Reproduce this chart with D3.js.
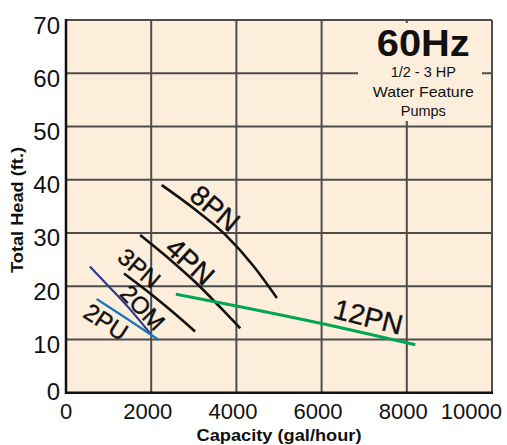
<!DOCTYPE html>
<html><head><meta charset="utf-8">
<script src="https://cdn.jsdelivr.net/npm/d3@7"></script>
<style>body{margin:0;background:#fff}svg{display:block}text{font-family:"Liberation Sans",Arial,Helvetica,sans-serif}</style>
</head><body>
<script>
const xTicks = [0, 2000, 4000, 6000, 8000, 10000];
const yTicks = [0, 10, 20, 30, 40, 50, 60, 70];

const pn8Gph = [2250, 3000, 3750, 4400, 4950];
const pn8Head = [39.0, 34.6, 29.6, 23.8, 17.8];
const pn4Gph = [1740, 2500, 3070, 3600, 4090];
const pn4Head = [29.6, 24.6, 20.5, 16.2, 12.1];
const pn3Gph = [1360, 2000, 2500, 3030];
const pn3Head = [22.4, 18.5, 15.2, 11.5];
const om2Gph = [560, 1000, 1500, 1990];
const om2Head = [23.7, 20.0, 15.7, 11.0];
const pu2Gph = [720, 1450, 2180];
const pu2Head = [17.6, 13.8, 9.9];
const pn12Gph = [2580, 4000, 6000, 8200];
const pn12Head = [18.5, 16.3, 13.0, 9.0];

const seriesNames = ["8PN", "4PN", "3PN", "2OM", "2PU", "12PN"];
const labelGph = [3498, 2911, 1721, 1800, 939, 7096];
const labelHead = [34.6, 24.6, 23.4, 16.0, 13.3, 14.2];

const W = 507, H = 445;
const m = {l: 66, t: 20, r: 15, b: 52.3};
const iw = W - m.l - m.r, ih = H - m.t - m.b;

const svg = d3.select("body").append("svg").attr("width", W).attr("height", H);
const x = d3.scaleLinear().domain([0, 10000]).range([m.l, m.l + iw]);
const y = d3.scaleLinear().domain([0, 70]).range([m.t + ih, m.t]);

const bg = "#fdeedb";
svg.append("rect").attr("x", m.l).attr("y", m.t).attr("width", iw).attr("height", ih).attr("fill", bg);

// grid
const grid = svg.append("g").attr("stroke", "#4d4d4d").attr("stroke-width", 2);
grid.selectAll(".vx").data(xTicks.slice(1)).join("line")
  .attr("x1", d => x(d)).attr("x2", d => x(d)).attr("y1", m.t).attr("y2", m.t + ih);
grid.selectAll(".hy").data(yTicks.slice(1)).join("line")
  .attr("y1", d => y(d)).attr("y2", d => y(d)).attr("x1", m.l).attr("x2", m.l + iw);

// box covering grid behind title
svg.append("rect").attr("x", 358).attr("y", 23).attr("width", 124).attr("height", 98).attr("fill", bg);

// axes lines
svg.append("line").attr("x1", m.l).attr("x2", m.l).attr("y1", m.t - 1).attr("y2", m.t + ih + 1.2)
  .attr("stroke", "#111").attr("stroke-width", 2.5);
svg.append("line").attr("x1", m.l - 1).attr("x2", m.l + iw + 1).attr("y1", m.t + ih).attr("y2", m.t + ih)
  .attr("stroke", "#111").attr("stroke-width", 2.5);

// y tick labels
svg.append("g").selectAll("text").data(yTicks).join("text")
  .attr("x", 60).attr("y", d => y(d) + (d === 0 ? -1 : 5))
  .attr("text-anchor", "end").attr("dominant-baseline", "central")
  .attr("font-size", 24).attr("fill", "#111").text(d => d);

// x tick labels
svg.append("g").selectAll("text").data(xTicks).join("text")
  .attr("x", d => d === 0 ? x(d) : d === 10000 ? 502 : x(d) - 3.5)
  .attr("y", 419)
  .attr("text-anchor", d => d === 10000 ? "end" : "middle")
  .attr("font-size", 22).attr("fill", "#111").text(d => d);

// axis titles
svg.append("text").attr("x", (m.l + m.l + iw) / 2).attr("y", 441).attr("text-anchor", "middle")
  .attr("font-size", 16).attr("font-weight", "bold").attr("fill", "#111")
  .attr("textLength", 165).attr("lengthAdjust", "spacingAndGlyphs")
  .text("Capacity (gal/hour)");
svg.append("text").attr("transform", "translate(23,210) rotate(-90)").attr("text-anchor", "middle")
  .attr("font-size", 16).attr("font-weight", "bold").attr("fill", "#111")
  .attr("textLength", 126).attr("lengthAdjust", "spacingAndGlyphs")
  .text("Total Head (ft.)");

// title block
const tb = svg.append("g").attr("text-anchor", "middle").attr("fill", "#111");
tb.append("text").attr("x", 423.3).attr("y", 56).attr("font-size", 36).attr("font-weight", "bold")
  .attr("textLength", 93).attr("lengthAdjust", "spacingAndGlyphs").text("60Hz");
tb.append("text").attr("x", 423.3).attr("y", 76.5).attr("font-size", 14.5).text("1/2 - 3 HP");
tb.append("text").attr("x", 423.3).attr("y", 96.5).attr("font-size", 14.5)
  .attr("textLength", 101).attr("lengthAdjust", "spacingAndGlyphs").text("Water Feature");
tb.append("text").attr("x", 423.3).attr("y", 116).attr("font-size", 14.5).text("Pumps");

// curves
const seriesGph = [pn8Gph, pn4Gph, pn3Gph, om2Gph, pu2Gph, pn12Gph];
const seriesHead = [pn8Head, pn4Head, pn3Head, om2Head, pu2Head, pn12Head];
const colors = ["#111", "#111", "#111", "#2b3990", "#1b75bb", "#00a651"];
const widths = [2.6, 2.6, 2.6, 2.2, 2.2, 3];
const line = d3.line().x(d => x(d[0])).y(d => y(d[1])).curve(d3.curveMonotoneX);
seriesNames.forEach((n, i) => {
  const pts = seriesGph[i].map((g, j) => [g, seriesHead[i][j]]);
  svg.append("path").attr("d", line(pts)).attr("fill", "none")
    .attr("stroke", colors[i]).attr("stroke-width", widths[i]);
});

// labels
const angles = [40, 42, 40, 46, 33, 14];
const sizes = [28, 28, 24, 24, 24, 28];
seriesNames.forEach((n, i) => {
  svg.append("text")
    .attr("transform", `translate(${x(labelGph[i])},${y(labelHead[i])}) rotate(${angles[i]})`)
    .attr("text-anchor", "middle").attr("dominant-baseline", "central")
    .attr("font-size", sizes[i]).attr("fill", "#111").attr("stroke", "#111").attr("stroke-width", 0.4)
    .text(n);
});
</script>
</body></html>
